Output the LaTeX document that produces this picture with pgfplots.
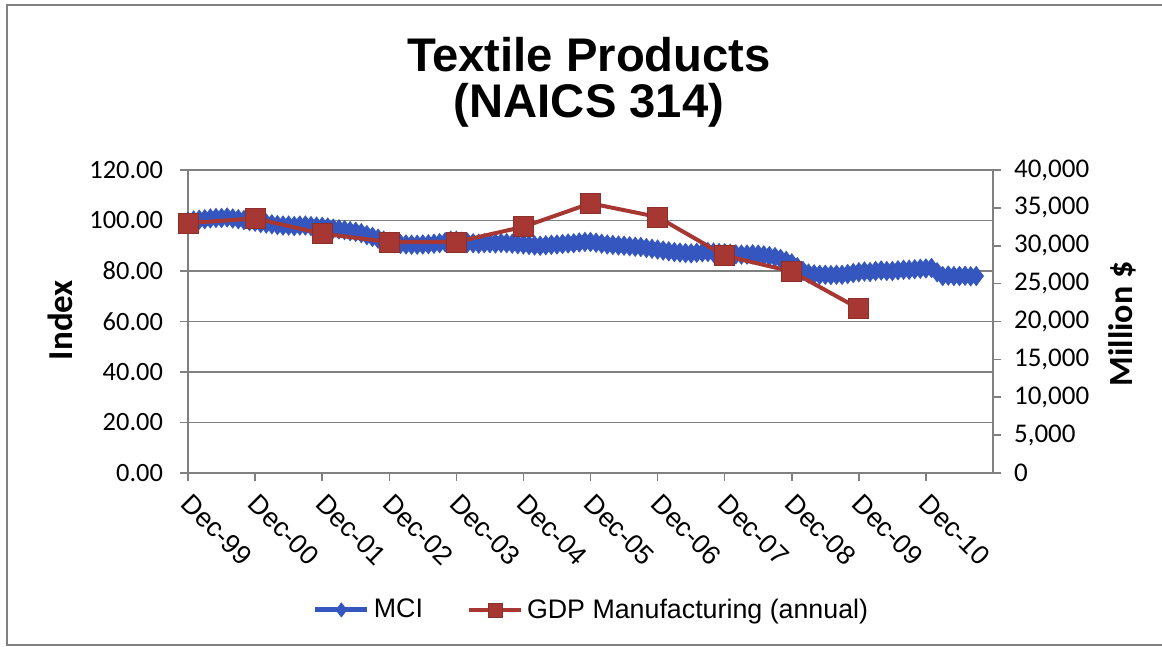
\documentclass[border=0pt]{standalone}
\usepackage{fontspec}
\setmainfont{Liberation Sans}
\newfontfamily\carlito{Carlito}
\usepackage{pgfplots}
\pgfplotsset{compat=1.18}
\usepackage{pgfplotstable}
\definecolor{mciblue}{RGB}{52,86,190}
\definecolor{gdpred}{RGB}{166,55,50}
\definecolor{gridc}{RGB}{128,128,128}

\pgfplotstableread{
m v
0 99.5
1 100
2 100.3
3 100.5
4 100.8
5 101
6 101
7 101.2
8 100.8
9 100.5
10 100.2
11 99.8
12 99.5
13 99
14 98.8
15 98.5
16 98.2
17 98
18 98
19 97.8
20 98
21 98
22 97.8
23 97.6
24 97.5
25 97.2
26 96.8
27 96.5
28 96.2
29 95.8
30 95.5
31 95
32 94.2
33 93.5
34 92.8
35 92
36 91.5
37 91
38 90.7
39 90.5
40 90.4
41 90.4
42 90.5
43 90.6
44 90.8
45 91
46 91.4
47 92
48 92
49 91.6
50 91.2
51 91
52 90.8
53 91
54 91
55 90.9
56 91.1
57 91
58 90.8
59 90.6
60 90.5
61 90.3
62 90.1
63 90
64 90.2
65 90.4
66 90.5
67 90.7
68 90.9
69 91
70 91.3
71 91.5
72 91.5
73 91.2
74 90.8
75 90.5
76 90.3
77 90.1
78 90
79 89.8
80 89.6
81 89.5
82 89.1
83 88.8
84 88.5
85 88.1
86 87.8
87 87.5
88 87.3
89 87.1
90 87
91 87.2
92 87.4
93 87.5
94 87.3
95 87.1
96 87
97 86.8
98 86.6
99 86.5
100 86.5
101 86.6
102 86.5
103 86.2
104 85.9
105 85.5
106 84.8
107 84
108 83
109 81.5
110 80
111 79
112 78.7
113 78.5
114 78.5
115 78.4
116 78.5
117 78.5
118 78.8
119 79.2
120 79.5
121 79.8
122 79.6
123 80
124 80.2
125 80
126 80
127 80.3
128 80.5
129 80.5
130 80.7
131 80.9
132 81
133 81.2
134 79.5
135 78
136 78.2
137 78
138 78
139 78.1
140 77.9
141 78
}\mcidata

\pgfplotstableread{
m v
0 33000
12 33600
24 31600
36 30500
48 30500
60 32500
72 35600
84 33800
96 28700
108 26600
120 21700
}\gdpdata

\begin{document}
\begin{tikzpicture}
\useasboundingbox (0,0) rectangle (581pt,323.5pt);
\draw[gridc, line width=1pt] (3.5pt,321pt) rectangle (600pt,1pt);
\node[font=\bfseries\fontsize{23.6}{23.6}\selectfont, anchor=base, inner sep=0pt] at (294.5pt,287.5pt) {Textile Products};
\node[font=\bfseries\fontsize{23.6}{23.6}\selectfont, anchor=base, inner sep=0pt] at (294.5pt,264.5pt) {(NAICS 314)};
\node[rotate=90, font=\carlito\bfseries\fontsize{17.5}{17.5}\selectfont, inner sep=0pt] at (30pt,163.5pt) {Index};
\node[rotate=90, font=\carlito\bfseries\fontsize{17}{17}\selectfont, inner sep=0pt] at (561pt,161.5pt) {Million \$};

\begin{axis}[
  at={(94pt,87pt)}, anchor=south west, scale only axis,
  width=402.5pt, height=151.5pt,
  xmin=0, xmax=144, ymin=0, ymax=120,
  axis x line*=bottom, axis y line*=left,
  xtick={0,12,...,132},
  xticklabels={Dec-99,Dec-00,Dec-01,Dec-02,Dec-03,Dec-04,Dec-05,Dec-06,Dec-07,Dec-08,Dec-09,Dec-10},
  ytick={0,20,...,120},
  ymajorgrids, grid style={gridc, line width=0.75pt},
  axis line style={gridc, line width=0.75pt, -},
  tick style={gridc, line width=0.75pt},
  tick align=outside, major tick length=4pt,
  xticklabel style={rotate=-45, anchor=north west, font=\fontsize{13.4}{13.4}\selectfont, inner sep=1pt, xshift=4.6pt, yshift=-1pt},
  yticklabel style={font=\carlito\fontsize{13.2}{13.2}\selectfont, xshift=-5pt,
    /pgf/number format/fixed, /pgf/number format/fixed zerofill,
    /pgf/number format/precision=2, /pgf/number format/assume math mode=true},
  clip=false,
]
\addplot[mciblue, line width=2pt, mark=diamond*, mark size=4.8pt,
  mark options={fill=mciblue, draw=mciblue, line width=0.4pt}] table[x=m,y=v]{\mcidata};
\end{axis}

\begin{axis}[
  at={(94pt,87pt)}, anchor=south west, scale only axis,
  width=402.5pt, height=151.5pt,
  xmin=0, xmax=144, ymin=0, ymax=40000,
  axis y line*=right, axis x line=none,
  ytick={0,5000,...,40000}, scaled y ticks=false,
  axis line style={gridc, line width=0.75pt, -},
  tick style={gridc, line width=0.75pt},
  tick align=outside, major tick length=4pt,
  yticklabel style={font=\carlito\fontsize{13.5}{13.5}\selectfont, xshift=3pt,
    /pgf/number format/fixed, /pgf/number format/1000 sep={,},
    /pgf/number format/assume math mode=true},
  clip=false,
  legend style={at={(0.5025,-0.452)}, anchor=center, draw=none, fill=none,
    font=\fontsize{13.4}{13.4}\selectfont, legend columns=2,
    /tikz/every even column/.append style={column sep=20pt}},
  legend image code/.code={\draw[#1, mark repeat=2, mark phase=2] plot coordinates {(0pt,0pt) (13pt,0pt) (26pt,0pt)};},
  legend image post style={mark size=3.5pt},
]
\addlegendimage{mciblue, line width=2.5pt, mark=diamond*, mark options={fill=mciblue, draw=mciblue, line width=0.4pt}}
\addlegendentry{MCI}
\addplot[gdpred, line width=2pt, mark=square*, mark size=5pt,
  mark options={fill=gdpred, draw=gdpred!85!black, line width=0.4pt}] table[x=m,y=v]{\gdpdata};
\addlegendentry{GDP Manufacturing (annual)}
\end{axis}
\end{tikzpicture}
\end{document}
